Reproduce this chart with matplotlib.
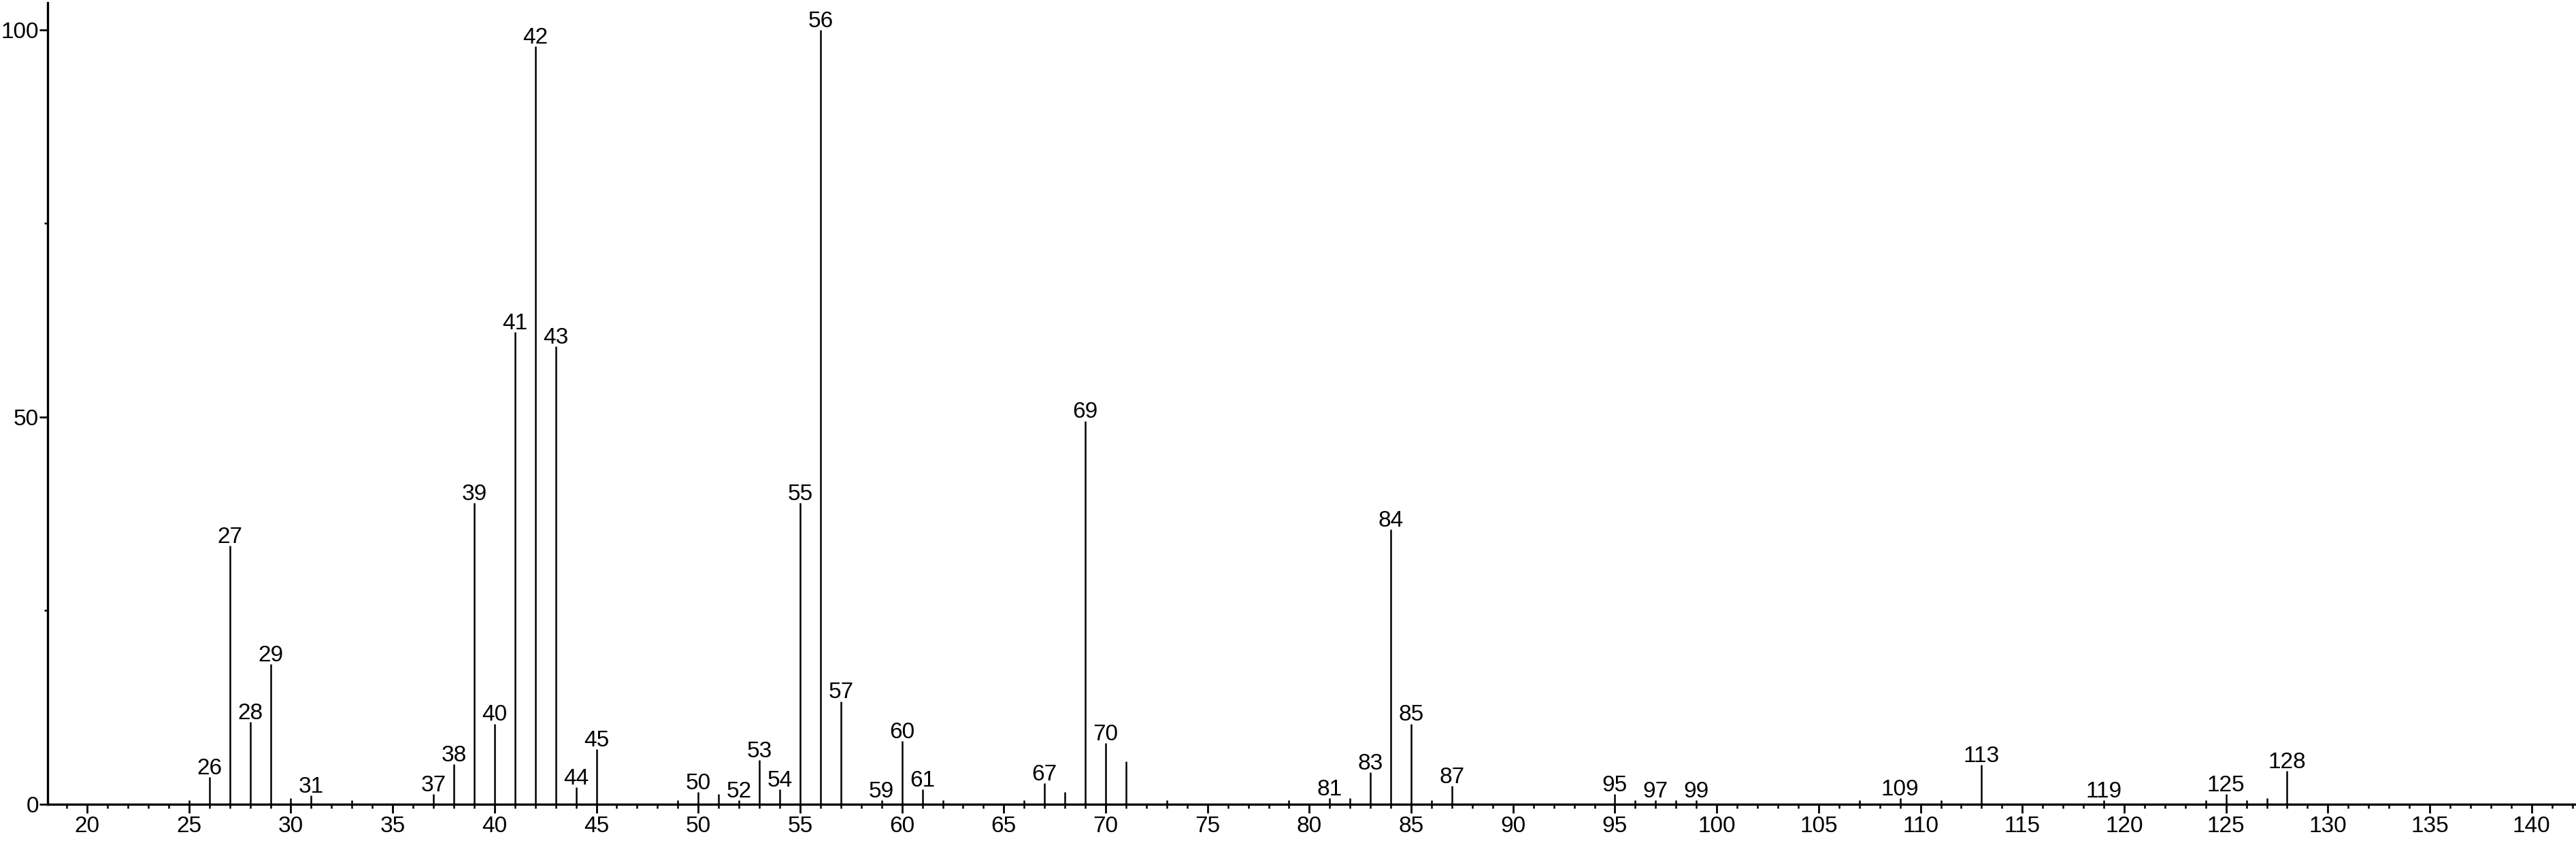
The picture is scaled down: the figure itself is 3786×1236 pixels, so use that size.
import matplotlib
matplotlib.use('Agg')
import matplotlib.pyplot as plt
from matplotlib.ticker import MultipleLocator, FixedLocator

plt.rcParams['font.family'] = ['Liberation Sans', 'DejaVu Sans']

# mass spectrum: m/z and relative intensity
mz = [25, 26, 27, 28, 29, 30, 31, 33, 37, 38, 39, 40, 41, 42, 43, 44, 45,
      49, 50, 51, 52, 53, 54, 55, 56, 57, 59, 60, 61, 62, 66, 67, 68, 69, 70, 71,
      73, 79, 81, 82, 83, 84, 85, 86, 87, 95, 96, 97, 98, 99,
      107, 109, 111, 113, 119, 124, 125, 126, 127, 128]
intensity = [0.5, 3.5, 33.4, 10.6, 18.1, 0.8, 1.1, 0.5, 1.3, 5.2, 38.9, 10.4, 61.0, 97.9, 59.1, 2.2, 7.1,
             0.5, 1.6, 1.3, 0.5, 5.7, 1.9, 38.9, 100.0, 13.3, 0.5, 8.2, 1.9, 0.5, 0.5, 2.7, 1.6, 49.5, 7.9, 5.5,
             0.5, 0.5, 0.8, 0.8, 4.1, 35.5, 10.4, 0.5, 2.4, 1.3, 0.5, 0.5, 0.5, 0.5,
             0.5, 0.8, 0.5, 5.1, 0.5, 0.5, 1.3, 0.5, 0.8, 4.3]
labeled = [26, 27, 28, 29, 31, 37, 38, 39, 40, 41, 42, 43, 44, 45, 50, 52, 53, 54,
           55, 56, 57, 59, 60, 61, 67, 69, 70, 81, 83, 84, 85, 87, 95, 97, 99,
           109, 113, 119, 125, 128]

fig = plt.figure(figsize=(37.86, 12.36), dpi=100)
ax = fig.add_axes([70/3786, 1 - 1182/1236, 1 - 70/3786, (1182 - 4)/1236])

ax.vlines(mz, 0, intensity, colors='black', lw=1.8)

for m, v in zip(mz, intensity):
    if m in labeled:
        ax.annotate(str(m), (m, v), xytext=(0, 3), textcoords='offset points',
                    ha='center', va='baseline', fontsize=24)

ax.set_xlim(18.06, 142.18)
ax.set_ylim(0, 103.5)

for s in ['top', 'right']:
    ax.spines[s].set_visible(False)
for s in ['left', 'bottom']:
    ax.spines[s].set_linewidth(2.4)

ax.xaxis.set_major_locator(MultipleLocator(5))
ax.xaxis.set_minor_locator(MultipleLocator(1))
ax.yaxis.set_major_locator(FixedLocator([0, 50, 100]))
ax.yaxis.set_minor_locator(FixedLocator([25, 75]))

ax.tick_params(axis='x', which='major', direction='out', length=9.5, width=2.0, labelsize=24, pad=3)
ax.tick_params(axis='x', which='minor', direction='out', length=4.5, width=1.8)
ax.tick_params(axis='y', which='major', direction='out', length=8.5, width=2.0, labelsize=24, pad=1)
ax.tick_params(axis='y', which='minor', direction='out', length=3.5, width=1.8)

fig.savefig('out.png', dpi=100)
